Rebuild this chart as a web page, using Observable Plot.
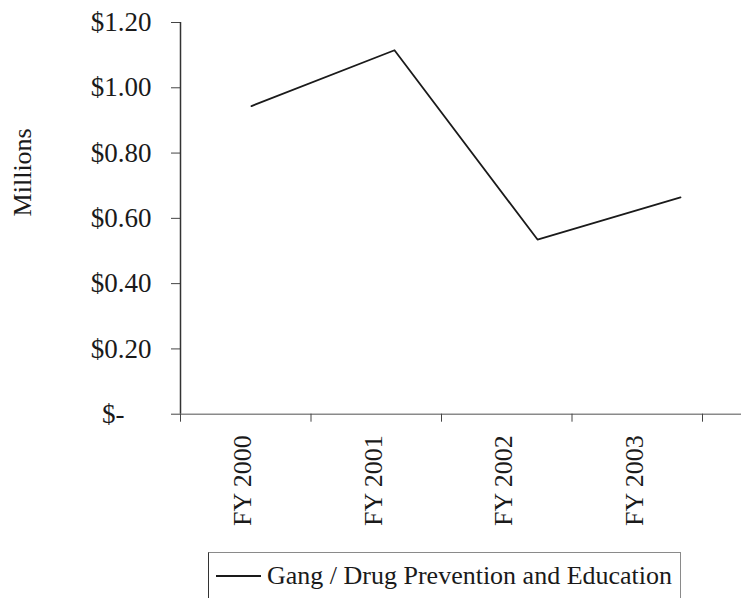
<!DOCTYPE html>
<html>
<head>
<meta charset="utf-8">
<script src="https://cdn.jsdelivr.net/npm/d3@7"></script>
<script src="https://cdn.jsdelivr.net/npm/@observablehq/plot@0.6"></script>
<style>
  html, body { margin: 0; padding: 0; background: #fff; }
  #wrap { position: relative; width: 741px; height: 598px; overflow: hidden; font-family: "Liberation Serif", serif; }
  #wrap svg { position: absolute; left: 0; top: 0; }
  #legend { position: absolute; left: 208px; top: 552px; width: 471px; height: 60px;
            border-top: 1.5px solid #8a8a8a; border-left: 1.5px solid #333; border-right: 1.5px solid #8a8a8a; }
  #legend .sw { position: absolute; left: 7px; top: 22px; width: 45px; height: 2px; background: #1a1a1a; }
  #legend .lab { position: absolute; left: 58px; top: 10px; font-size: 26px; line-height: 26px; color: #1a1a1a; white-space: nowrap; }
</style>
</head>
<body>
<div id="wrap"></div>
<script>
const categories = ["FY 2000", "FY 2001", "FY 2002", "FY 2003"];
const values = [0.944, 1.115, 0.535, 0.664];
const yTicks = [0, 0.2, 0.4, 0.6, 0.8, 1.0, 1.2];
const seriesName = "Gang / Drug Prevention and Education";
const yTitle = "Millions";

const data = categories.map((c, i) => ({cat: c, value: values[i]}));
const W = 741, H = 545;
const fmt = d => d === 0 ? "$-\u00a0\u00a0\u00a0\u00a0" : "$" + d.toFixed(2);

const axes = Plot.plot({
  width: W, height: H,
  marginLeft: 180, marginRight: 0, marginTop: 22, marginBottom: 131.3,
  x: {domain: [0, categories.length], range: [180, 702], axis: null},
  y: {domain: [0, 1.2], axis: null},
  style: {fontFamily: "Liberation Serif", fontSize: "26px", color: "#1a1a1a", background: "transparent"},
  marks: [
    Plot.ruleY([0], {stroke: "#8a8a8a", strokeWidth: 1.5}),
    Plot.axisY({ticks: yTicks, tickSize: 9, tickPadding: 20, tickFormat: fmt, label: null, fontSize: 27, stroke: "#444"}),
    Plot.ruleX([0], {stroke: "#333", strokeWidth: 1.5}),
    Plot.axisX({ticks: d3.range(categories.length + 1), tickSize: 8, tickFormat: () => "", label: null, stroke: "#444"}),
    Plot.axisX({ticks: d3.range(categories.length).map(i => i + 0.5), tickSize: 0, tickPadding: 21, tickRotate: -90,
                tickFormat: i => categories[Math.floor(i)], label: null, fontSize: 26, dx: -3}),
    Plot.text([yTitle], {frameAnchor: "left", textAnchor: "middle", rotate: -90, dx: -158, dy: -46, fontSize: 26, fill: "#1a1a1a"})
  ]
});

const lines = Plot.plot({
  width: W, height: H,
  marginLeft: 180, marginRight: 0, marginTop: 22, marginBottom: 131.3,
  x: {type: "point", domain: categories, range: [251, 680], padding: 0, axis: null},
  y: {domain: [0, 1.2], axis: null},
  style: {background: "transparent"},
  marks: [
    Plot.line(data, {x: "cat", y: "value", stroke: "#1a1a1a", strokeWidth: 1.8})
  ]
});

const wrap = document.getElementById("wrap");
wrap.appendChild(axes);
wrap.appendChild(lines);

const legend = document.createElement("div");
legend.id = "legend";
legend.innerHTML = '<div class="sw"></div><div class="lab"></div>';
legend.querySelector(".lab").textContent = seriesName;
wrap.appendChild(legend);
</script>
</body>
</html>
